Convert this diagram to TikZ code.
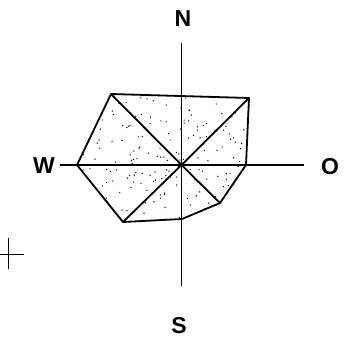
\documentclass[tikz,border=0pt]{standalone}
\usepackage{fontspec}
\setmainfont{Liberation Sans}
\begin{document}
\begin{tikzpicture}[x=1pt,y=-1pt,
  axis/.style={line width=1.3pt},
  edge/.style={line width=1.8pt,line join=round},
  lbl/.style={font=\bfseries\fontsize{23}{23}\selectfont,inner sep=0pt},
  dot/.style={fill=black}]
\useasboundingbox (0,0) rectangle (361,350);
% vertices
\coordinate (c) at (181.5,165);
\coordinate (nw) at (111,94);
\coordinate (ne) at (249,98);
\coordinate (e) at (246,165);
\coordinate (se) at (220,203);
\coordinate (s) at (182,219);
\coordinate (sw) at (123,222);
\coordinate (w) at (77,165);
% stipple
\begin{scope}
\clip (nw) -- (ne) -- (e) -- (se) -- (s) -- (sw) -- (w) -- cycle;
\pgfmathsetseed{1777}
\foreach \i in {1,...,200}{
  \pgfmathsetmacro{\px}{77+172*rnd}
  \pgfmathsetmacro{\py}{94+128*rnd}
  \fill[dot] (\px,\py) circle (0.7pt);
}
\end{scope}
% axes
\coordinate (atop) at (181.5,43.5);
\coordinate (abot) at (181.5,286);
\coordinate (aleft) at (59.5,165);
\coordinate (aright) at (303.5,165);
\draw[axis] (atop) -- (abot);
\draw[axis] (aleft) -- (aright);
% polygon
\draw[edge] (nw) -- (ne) -- (e) -- (se) -- (s) -- (sw) -- (w) -- cycle;
\draw[edge] (nw) -- (c) -- (se);
\draw[edge] (ne) -- (c) -- (sw);
% labels
\node[lbl] (N) at (183,18.5) {N};
\node[lbl] (S) at (179,326) {S};
\node[lbl] (W) at (44,165.5) {W};
\node[lbl] (O) at (330,166.5) {O};
% small cross
\coordinate (cxa) at (8.7,238);
\coordinate (cxb) at (8.7,269);
\coordinate (cya) at (0,254);
\coordinate (cyb) at (24,254);
\draw[line width=0.7pt] (cxa) -- (cxb);
\draw[line width=0.7pt] (cya) -- (cyb);
\end{tikzpicture}
\end{document}
